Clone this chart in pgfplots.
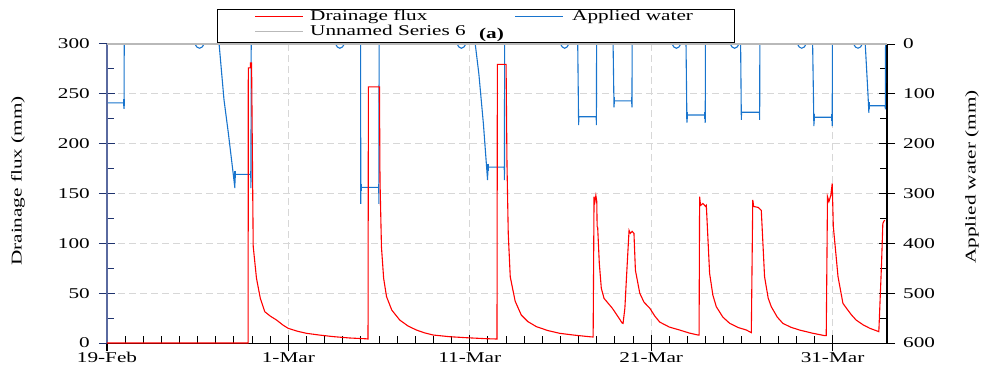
\documentclass[border=0pt]{standalone}
\usepackage{fontspec}
\setmainfont{Liberation Serif}[FakeStretch=1.42]
\usepackage{pgfplots}
\pgfplotsset{compat=1.18}
\usepackage{pgfplotstable}
\definecolor{dred}{RGB}{255,0,0}
\definecolor{ablue}{RGB}{24,116,205}
\definecolor{sgray}{RGB}{185,185,185}
\definecolor{laxis}{RGB}{90,106,160}
\definecolor{ltick}{RGB}{30,50,110}
\definecolor{gridc}{RGB}{215,215,215}

\pgfplotstableread{
day mm
0 0
7.78 0
7.79 276
7.90 276
7.91 281
7.97 281
8.06 97
8.24 65
8.45 45
8.70 31.4
9.0 27
9.35 23
9.7 18
9.99 14.7
10.5 11.8
11.0 9.7
11.7 8
12.47 6.4
13.4 5
14.3 4.2
14.39 4
14.41 257
15.02 257
15.05 163
15.13 96.6
15.25 65
15.41 46.5
15.7 33
16.14 23
16.6 17
17.06 13
17.5 10.2
17.98 8
18.9 6.3
19.82 5.3
20.92 4.3
21.5 4
21.52 279.6
22.0 279.6
22.05 180
22.12 110
22.23 66.5
22.5 42
22.84 28
23.2 21.5
23.67 16.4
24.3 12.5
24.96 9.7
25.8 7.8
26.6 6.3
26.8 6
26.85 146.8
26.9 142
26.95 148
27.0 142
27.02 116.7
27.05 116
27.14 80
27.25 55
27.4 44.8
27.86 34.8
28.15 27
28.4 20
28.45 19.7
28.55 35
28.63 63
28.78 113
28.85 110
28.95 112
29.05 110
29.13 73
29.37 50
29.6 41
29.92 35
30.2 27
30.47 21
31.0 16
31.57 13
32.1 10
32.58 8
32.64 8
32.67 146.8
32.72 138
32.85 140
33.0 137
33.04 138
33.22 70
33.4 48
33.59 36.4
33.95 26
34.33 19.7
34.8 15.5
35.25 13
35.52 10.4
35.6 143.5
35.65 137
35.9 136
36.07 133
36.25 66.5
36.45 45
36.62 36.4
36.95 26
37.26 19.7
37.7 15.8
38.18 13
38.9 9.8
39.56 7.4
39.65 7.4
39.72 146.8
39.8 142
39.9 148
39.98 160
40.04 117
40.3 66.5
40.57 39.8
40.8 34
41.05 28
41.3 23
41.7 18
42.06 14.7
42.55 11.4
42.7 80
42.77 120
42.87 123.4
}\drain

\pgfplotstableread{
day mm
0 0
0 128
0.01 118
0.93 118
0.94 130
0.95 0
4.85 0
4.95 6
5.1 8.5
5.25 6
5.35 0
6.18 0
6.45 112
6.69 179
6.96 261
7.05 289
7.06 261.5
7.93 261.5
7.935 289
7.95 0
12.6 0
12.7 6
12.84 8.5
12.98 6
13.08 0
13.98 0
13.99 321
14.0 287.6
14.98 287.6
14.99 321
15.0 0
19.3 0
19.4 6
19.54 8.5
19.68 6
19.78 0
20.3 0
20.5 60
20.75 160
20.98 273
21.0 247
21.9 247
21.91 273
21.92 0
25.0 0
25.1 6
25.23 8.5
25.36 6
25.46 0
25.95 0
26.0 163
26.01 146
26.97 146
26.98 163
26.99 0
27.9 0
27.95 127
27.96 114
28.93 114
28.94 127
28.95 0
31.15 0
31.25 6
31.39 8.5
31.53 6
31.63 0
31.92 0
31.97 158
31.98 142.5
32.97 142.5
32.98 158
32.99 0
34.36 0
34.46 6
34.6 8.5
34.74 6
34.84 0
34.93 0
34.97 152
34.98 137
35.97 137
35.98 152
35.99 0
38.06 0
38.16 6
38.3 8.5
38.44 6
38.54 0
38.9 0
38.97 165
38.98 147
39.97 147
39.98 165
39.99 0
41.16 0
41.26 6
41.4 8.5
41.54 6
41.64 0
41.8 0
41.95 100
42.0 138
42.01 124
42.9 124
42.91 131
42.92 0
}\applied

\pgfplotstableread{
day mm
0.0 118
0.93 118
7.06 261.5
7.93 261.5
14.0 287.6
14.98 287.6
21.0 247
21.9 247
26.01 146
26.97 146
27.96 114
28.93 114
31.98 142.5
32.97 142.5
34.98 137
35.97 137
38.98 147
39.97 147
42.01 124
42.9 124
}\caps

\begin{document}
\fontsize{15}{18}\selectfont
\begin{tikzpicture}
\path[use as bounding box] (-107bp,-30bp) rectangle (877bp,343bp);
\pgfplotsset{
  base/.style={
    scale only axis, width=780bp, height=299bp,
    at={(0bp,0bp)}, anchor=south west,
    xmin=0, xmax=43, clip=false,
    xtick={0,10,20,30,40}, minor x tick num=9,
    tick align=inside, major tick length=16bp, minor tick length=7bp,
    major x tick style={yshift=-8bp},
    /pgf/number format/assume math mode=true,
    tick label style={font=\fontsize{15}{18}\selectfont},
    axis line style={-},
  },
}
% right axis: applied water
\begin{axis}[base,
  axis y line*=right, axis x line*=bottom,
  ymin=0, ymax=600, y dir=reverse,
  ytick={0,100,...,600}, minor y tick num=1,
  xticklabels={},
  grid=major,
  major grid style={gridc, dash pattern=on 7bp off 4bp, line width=0.8bp},
  major y tick style={xshift=8bp},
  y axis line style={black, line width=1.2bp},
  x axis line style={black, line width=1bp},
  ytick style={black, line width=1bp},
  xtick style={black, line width=1bp},
  yticklabel style={xshift=11bp},
]
\addplot[ablue, line width=1.1bp] table[x=day, y=mm] {\applied};
\addplot[ablue, line width=1.3bp, only marks, mark=|, mark size=3.5bp] table[x=day, y=mm] {\caps};
\node[rotate=90] at (rel axis cs:1.109,0.555) {Applied water (mm)};
\end{axis}
% left axis: drainage
\begin{axis}[base,
  axis y line*=left, axis x line*=bottom,
  ymin=0, ymax=300,
  ytick={0,50,...,300}, minor y tick num=1,
  xticklabels={19-Feb,1-Mar,11-Mar,21-Mar,31-Mar},
  xticklabel style={yshift=-4bp},
  major y tick style={xshift=-8bp},
  y axis line style={laxis, line width=1.2bp},
  x axis line style={black, line width=1bp},
  ytick style={ltick, line width=1bp},
  xtick style={black, line width=1bp},
  yticklabel style={xshift=-12bp},
]
\addplot[dred, line width=1.1bp] table[x=day, y=mm] {\drain};
\addplot[sgray, line width=1.5bp] coordinates {(0,300) (43,300)};
\node[rotate=90] at (rel axis cs:-0.114,0.542) {Drainage flux (mm)};
\end{axis}
% legend: box, then keys set as coloured text rules
\draw[black, fill=white, line width=0.8bp] (110bp,301bp) rectangle (627bp,334bp);
\node[anchor=base west, inner sep=0pt] at (148bp,322bp)
  {\textcolor{dred}{\rule[3.5bp]{48bp}{1.1bp}}\hspace{7bp}Drainage flux};
\node[anchor=base west, inner sep=0pt] at (408bp,322bp)
  {\textcolor{ablue}{\rule[3.5bp]{48bp}{1.1bp}}\hspace{9bp}Applied water};
\node[anchor=base west, inner sep=0pt] at (148bp,307bp)
  {\textcolor{sgray}{\rule[3.5bp]{48bp}{1.1bp}}\hspace{7bp}Unnamed Series 6};
\node[font=\bfseries] at (384.5bp,308bp) {(a)};
\end{tikzpicture}
\end{document}
